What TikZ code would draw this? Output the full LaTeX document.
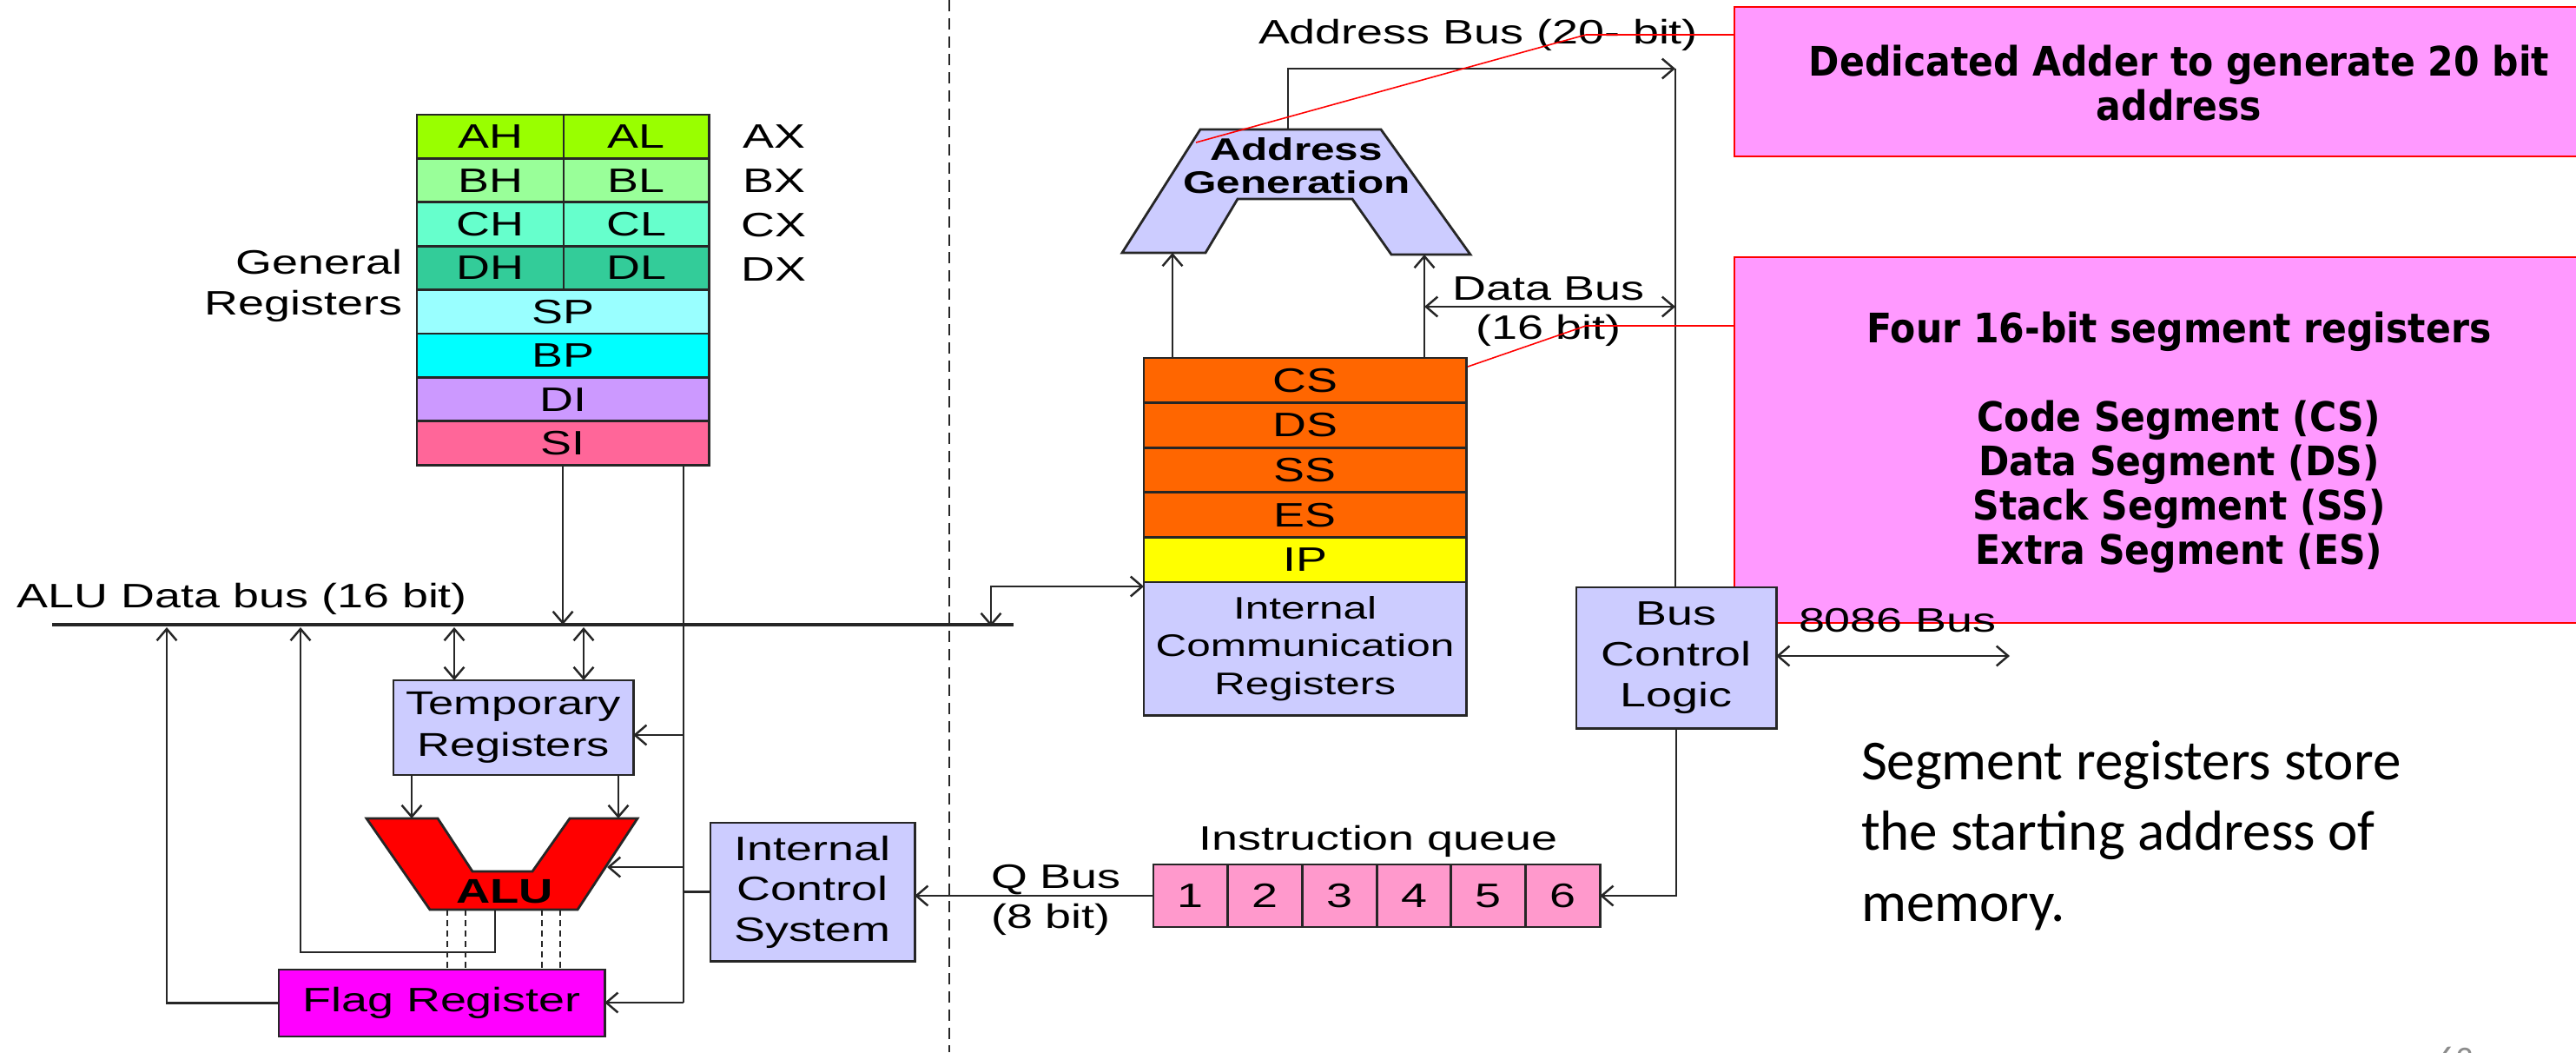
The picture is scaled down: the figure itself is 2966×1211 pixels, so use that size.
\documentclass[tikz,border=0pt]{standalone}
\usepackage{fontspec}
\setmainfont{Liberation Sans}
\newfontfamily\dia{Liberation Sans}[FakeStretch=1.38]
\newfontfamily\tah{DejaVu Sans}[FakeStretch=0.91]
\newfontfamily\calib{Carlito}
\usetikzlibrary{arrows.meta}
\definecolor{lc}{HTML}{262626}
\definecolor{cA}{HTML}{99FF00}
\definecolor{cB}{HTML}{99FF99}
\definecolor{cC}{HTML}{66FFCC}
\definecolor{cD}{HTML}{33CC99}
\definecolor{cSP}{HTML}{99FFFF}
\definecolor{cBP}{HTML}{00FFFF}
\definecolor{cDI}{HTML}{CC99FF}
\definecolor{cSI}{HTML}{FF6699}
\definecolor{lav}{HTML}{CCCCFF}
\definecolor{seg}{HTML}{FF6600}
\definecolor{ipc}{HTML}{FFFF00}
\definecolor{que}{HTML}{FF99CC}
\definecolor{flg}{HTML}{FF00FF}
\definecolor{note}{HTML}{FF99FF}
\definecolor{pg}{HTML}{8C8C8C}
\tikzset{
  box/.style={draw=lc, line width=0.8pt, inner sep=0pt, outer sep=0pt, anchor=north west, align=center},
  conn/.style={draw=lc, line width=0.7pt},
  arr/.style={conn, -{Straight Barb[length=3.8pt,width=6.5pt]}},
  arr2/.style={conn, {Straight Barb[length=3.8pt,width=6.5pt]}-{Straight Barb[length=3.8pt,width=6.5pt]}},
  lbl/.style={inner sep=0pt, outer sep=0pt},
  notebox/.style={draw=red, line width=0.45pt, fill=note, anchor=north west, inner sep=0pt, outer sep=0pt},
  redl/.style={draw=red, line width=0.45pt},
  dfont/.style={font=\dia\fontsize{11.1pt}{13.4pt}\selectfont},
}
\begin{document}
\begin{tikzpicture}[x=0.01cm, y=-0.01cm, dfont]
\useasboundingbox (0,0) rectangle (2966,1211);
\clip (0,0) rectangle (2966,1211);

% ---- notes (behind) ----
\node[notebox, minimum width=10cm, minimum height=1.72cm] (note1) at (1997,8) {};
\node[notebox, minimum width=10cm, minimum height=4.21cm] (note2) at (1997,296) {};
\node[lbl, align=center, font=\tah\bfseries\fontsize{13.3pt}{14.5pt}\selectfont] (note1t) at (2509,96) {Dedicated Adder to generate 20 bit\\address};
\node[lbl, align=center, font=\tah\bfseries\fontsize{13.3pt}{14.5pt}\selectfont] (note2t) at (2509,509) {Four 16-bit segment registers\\[14.5pt]Code Segment (CS)\\Data Segment (DS)\\Stack Segment (SS)\\Extra Segment (ES)};

% ---- divider ----
\coordinate (dvT) at (1093,0);
\coordinate (dvB) at (1093,1211);
\draw[lc, line width=0.8pt, dash pattern=on 3.7pt off 2.2pt] (dvT) -- (dvB);

% ---- general registers ----
\tikzset{regh/.style={box, minimum width=1.69cm, minimum height=0.504cm},
         regf/.style={box, minimum width=3.36cm, minimum height=0.504cm}}
\node[regh, fill=cA] (ah) at (480,132) {AH};
\node[regh, fill=cA, minimum width=1.67cm] (al) at (649,132) {AL};
\node[regh, fill=cB] (bh) at (480,182.4) {BH};
\node[regh, fill=cB, minimum width=1.67cm] (bl) at (649,182.4) {BL};
\node[regh, fill=cC] (ch) at (480,232.8) {CH};
\node[regh, fill=cC, minimum width=1.67cm] (cl) at (649,232.8) {CL};
\node[regh, fill=cD] (dh) at (480,283.2) {DH};
\node[regh, fill=cD, minimum width=1.67cm] (dl) at (649,283.2) {DL};
\node[regf, fill=cSP] (sp) at (480,333.6) {SP};
\node[regf, fill=cBP] (bp) at (480,384) {BP};
\node[regf, fill=cDI] (di) at (480,434.4) {DI};
\node[regf, fill=cSI] (si) at (480,484.8) {SI};
\node[lbl] (ax) at (891,157) {AX};
\node[lbl] (bx) at (891,208) {BX};
\node[lbl] (cx) at (891,259) {CX};
\node[lbl] (dx) at (891,310) {DX};
\node[lbl, anchor=east, align=right] (genreg) at (463,329) {General\\Registers};

% ---- ALU data bus ----
\coordinate (busL) at (60,719);
\coordinate (busR) at (1167,719);
\draw[lc, line width=1.2pt] (busL) -- (busR);
\node[lbl, anchor=base west] (busl) at (20,699) {ALU Data bus (16 bit)};

% ---- temporary registers, ALU, flags ----
\node[box, fill=lav, minimum width=2.76cm, minimum height=1.09cm, font=\dia\fontsize{10.8pt}{13.7pt}\selectfont] (temp) at (453,783) {Temporary\\Registers};
\draw[draw=lc, line width=0.8pt, fill=red] (422,942) -- (504,942) -- (544,1003) -- (613,1003) -- (656,942) -- (734,942) -- (665,1047) -- (495,1047) -- cycle;
\node[lbl, font=\dia\bfseries\fontsize{11.2pt}{13pt}\selectfont] (alu) at (581,1026) {ALU};
\node[box, fill=flg, minimum width=3.75cm, minimum height=0.77cm] (flag) at (321,1116) {Flag Register};
\node[box, fill=lav, minimum width=2.35cm, minimum height=1.59cm, font=\dia\fontsize{11.1pt}{13.2pt}\selectfont] (ics) at (818,947) {Internal\\Control\\System};

% connectors, left half
\draw[arr] (si.south) -- (si.south |- busL);
\coordinate (tapA) at (523,722);
\coordinate (tapB) at (672,722);
\draw[arr2] (tapA) -- (tapA |- temp.north);
\draw[arr2] (tapB) -- (tapB |- temp.north);
\coordinate (aluInL) at (474,942);
\coordinate (aluInR) at (712,942);
\draw[arr] (aluInL |- temp.south) -- (aluInL);
\draw[arr] (aluInR |- temp.south) -- (aluInR);
\coordinate (cTop) at (787,537);
\coordinate (cBot) at (787,1154);
\draw[conn] (cTop) -- (cBot);
\coordinate (cTemp) at (787,846);
\draw[arr] (cTemp) -- (cTemp -| temp.east);
\coordinate (cAlu) at (787,998);
\coordinate (aluSide) at (699,998);
\draw[arr] (cAlu) -- (aluSide);
\draw[conn] (ics.west) -- (ics.west -| cTop);
\draw[arr] (cBot) -- (cBot -| flag.east);
\coordinate (aluOut) at (570,1047);
\coordinate (fbA) at (346,1096);
\coordinate (fbAtop) at (346,722);
\draw[arr] (aluOut) |- (fbA) -- (fbAtop);
\coordinate (fbBtop) at (192,722);
\draw[arr] (flag.west) -| (fbBtop);
\foreach \x in {515,536,624,645}
  \draw[lc, line width=0.6pt, dash pattern=on 2pt off 1.4pt] (\x,1047) -- (\x,1116);

% ---- segment registers ----
\tikzset{segr/.style={box, minimum width=3.71cm, minimum height=0.516cm}}
\node[segr, fill=seg] (cs) at (1317,412) {CS};
\node[segr, fill=seg] (ds) at (1317,463.6) {DS};
\node[segr, fill=seg] (ss) at (1317,515.2) {SS};
\node[segr, fill=seg] (es) at (1317,566.8) {ES};
\node[segr, fill=ipc] (ip) at (1317,618.4) {IP};
\node[box, fill=lav, minimum width=3.71cm, minimum height=1.53cm, font=\dia\fontsize{10.2pt}{12.3pt}\selectfont] (icr) at (1317,670) {Internal\\Communication\\Registers};

% ---- address generation ----
\draw[draw=lc, line width=0.8pt, fill=lav] (1382,149) -- (1590,149) -- (1693,293) -- (1602,293) -- (1557,229) -- (1425,229) -- (1388,291) -- (1292,291) -- cycle;
\node[lbl, align=center, font=\dia\bfseries\fontsize{10.2pt}{10.8pt}\selectfont] (ag) at (1493,191) {Address\\Generation};

% ---- bus control logic ----
\node[box, fill=lav, minimum width=2.3cm, minimum height=1.62cm, font=\dia\fontsize{11.1pt}{13.4pt}\selectfont] (bcl) at (1815,676) {Bus\\Control\\Logic};

% ---- instruction queue ----
\foreach \i in {1,...,6} {
  \node[box, fill=que, minimum width=0.857cm, minimum height=0.72cm] (q\i) at ({1328+85.7*(\i-1)},995) {\i};
}
\node[lbl, anchor=base] (iq) at (1587,978) {Instruction queue};
\node[lbl, anchor=base] (qb1) at (1216,1022) {Q Bus};
\node[lbl, anchor=base] (qb2) at (1210,1068) {(8 bit)};

% connectors, right half
\coordinate (icrTap) at (1141,721);
\coordinate (icrIn) at (1317,675);
\draw[arr2] (icrTap) |- (icrIn);
\coordinate (agTop) at (1483,149);
\coordinate (abCorner) at (1929,79);
\draw[arr] (agTop) |- (abCorner);
\draw[conn] (abCorner) -- (abCorner |- bcl.north);
\node[lbl, anchor=base west] (abl) at (1449,50) {Address Bus (20- bit)};
\coordinate (agIn1) at (1350,291);
\coordinate (agIn2) at (1640,293);
\draw[arr] (agIn1 |- cs.north) -- (agIn1);
\draw[arr] (agIn2 |- cs.north) -- (agIn2);
\coordinate (dbL) at (1640,353);
\coordinate (dbR) at (1929,353);
\draw[arr2] (dbL) -- (dbR);
\node[lbl] (dbl1) at (1783,332) {Data Bus};
\node[lbl] (dbl2) at (1783,380) {(16 bit)};
\draw[arr] (bcl.south) |- (q6.east);
\draw[arr] (q1.west) -- (q1.west -| ics.east);
\coordinate (extBus) at (2314,755);
\draw[arr2] (bcl.east |- extBus) -- (extBus);
\node[lbl, anchor=base west] (ebl) at (2071,727) {8086 Bus};

% ---- pointer lines ----
\coordinate (r1a) at (1997,40);
\coordinate (r1b) at (1826,40);
\coordinate (r1c) at (1377,164);
\draw[redl] (r1a) -- (r1b) -- (r1c);
\coordinate (r2a) at (1997,375);
\coordinate (r2b) at (1826,375);
\coordinate (r2c) at (1690,422);
\draw[redl] (r2a) -- (r2b) -- (r2c);

% ---- side text ----
\tikzset{side/.style={lbl, anchor=base west, font=\calib\fontsize{18.5pt}{22pt}\selectfont}}
\node[side] (s1) at (2143,897) {Segment registers store};
\node[side] (s2) at (2143,978) {the starting address of};
\node[side] (s3) at (2143,1060) {memory.};
\node[lbl, anchor=north, text=pg, font=\calib\fontsize{11.5pt}{12pt}\selectfont] (pgno) at (2827,1205) {63};
\end{tikzpicture}
\end{document}
